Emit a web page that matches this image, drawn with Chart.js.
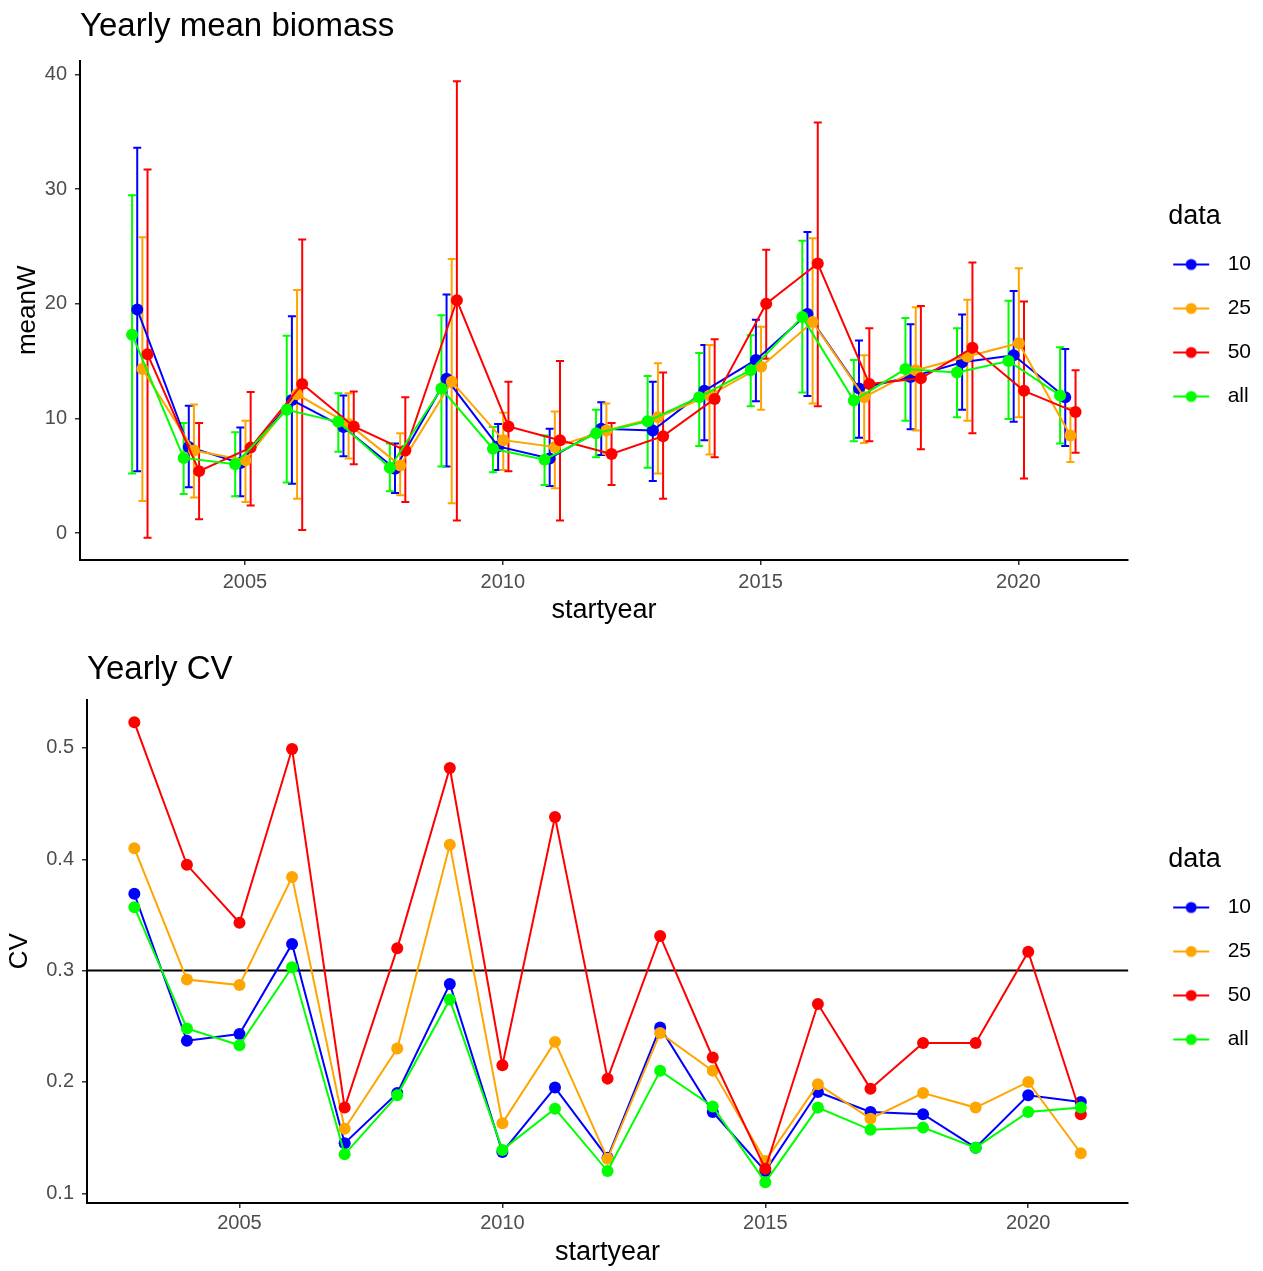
<!DOCTYPE html>
<html>
<head>
<meta charset="utf-8">
<script src="https://cdn.jsdelivr.net/npm/chart.js@4.4.1/dist/chart.umd.min.js"></script>
<style>
  html, body { margin: 0; padding: 0; background: #ffffff; }
  #wrap { position: relative; width: 1263px; height: 1271px; }
  .panel { position: absolute; left: 0; width: 1263px; }
</style>
</head>
<body>
<div id="wrap">
  <div class="panel" style="top:0px;height:635px"><canvas id="topChart" width="1263" height="635"></canvas></div>
  <div class="panel" style="top:635px;height:636px"><canvas id="cvChart" width="1263" height="636"></canvas></div>
</div>
<script>
// ---------------- data ----------------
const years = [2003, 2004, 2005, 2006, 2007, 2008, 2009, 2010, 2011, 2012,
               2013, 2014, 2015, 2016, 2017, 2018, 2019, 2020, 2021];
const seriesLabels = ['10', '25', '50', 'all'];
const seriesColors = ['#0000FF', '#FFA500', '#FF0000', '#00FF00'];

// Yearly mean biomass (meanW) with error bar limits
const meanW_10  = [19.5, 7.5, 6.1, 11.6, 9.25, 5.6, 13.45, 7.55, 6.5, 9.1, 8.95, 12.4, 15.1, 19.1, 12.6, 13.6, 14.9, 15.5, 11.85];
const lower_10  = [5.4, 4.0, 3.2, 4.3, 6.7, 3.5, 5.8, 5.5, 4.1, 6.8, 4.55, 8.1, 11.5, 11.95, 8.3, 9.05, 10.75, 9.7, 7.6];
const upper_10  = [33.6, 11.1, 9.2, 18.9, 12.0, 7.8, 20.8, 9.5, 9.1, 11.4, 13.2, 16.4, 18.6, 26.25, 16.8, 18.2, 19.05, 21.1, 16.05];

const meanW_25  = [14.3, 7.2, 6.35, 12.1, 9.5, 5.9, 13.2, 8.1, 7.5, 8.95, 10.1, 12.0, 14.5, 18.4, 11.85, 14.2, 15.4, 16.55, 8.5];
const lower_25  = [2.8, 3.1, 2.7, 3.0, 6.5, 3.3, 2.6, 5.5, 3.9, 6.9, 5.2, 6.85, 10.75, 11.3, 7.85, 8.95, 9.8, 10.1, 6.2];
const upper_25  = [25.8, 11.2, 9.8, 21.2, 12.2, 8.7, 23.9, 10.5, 10.6, 11.3, 14.8, 16.4, 18.0, 25.7, 15.5, 19.7, 20.35, 23.1, 10.9];

const meanW_50  = [15.6, 5.4, 7.45, 13.0, 9.3, 7.2, 20.3, 9.3, 8.1, 6.9, 8.45, 11.7, 20.0, 23.5, 13.0, 13.5, 16.15, 12.4, 10.55];
const lower_50  = [-0.4, 1.2, 2.4, 0.26, 6.0, 2.7, 1.1, 5.4, 1.1, 4.2, 3.0, 6.6, 15.2, 11.05, 8.0, 7.3, 8.7, 4.75, 7.0];
const upper_50  = [31.7, 9.6, 12.3, 25.6, 12.35, 11.85, 39.4, 13.2, 15.0, 9.6, 14.0, 16.9, 24.7, 35.8, 17.85, 19.8, 23.6, 20.2, 14.2];

const meanW_all = [17.3, 6.55, 6.0, 10.75, 9.7, 5.7, 12.6, 7.35, 6.4, 8.7, 9.75, 11.85, 14.2, 18.85, 11.55, 14.3, 14.0, 15.0, 12.0];
const lower_all = [5.2, 3.4, 3.2, 4.4, 7.1, 3.65, 5.8, 5.3, 4.2, 6.6, 5.7, 7.6, 11.05, 12.25, 8.0, 9.8, 10.1, 9.95, 7.8];
const upper_all = [29.45, 9.6, 8.8, 17.2, 12.2, 7.8, 19.0, 9.25, 8.5, 10.75, 13.7, 15.7, 17.25, 25.5, 15.1, 18.75, 17.85, 20.25, 16.2];

// Yearly CV
const cv_10  = [0.369, 0.237, 0.243, 0.324, 0.145, 0.190, 0.288, 0.137, 0.195, 0.132, 0.249, 0.173, 0.120, 0.191, 0.173, 0.171, 0.141, 0.188, 0.182];
const cv_25  = [0.410, 0.292, 0.287, 0.384, 0.158, 0.230, 0.413, 0.163, 0.236, 0.131, 0.244, 0.210, 0.129, 0.198, 0.167, 0.190, 0.177, 0.200, 0.136];
const cv_50  = [0.523, 0.395, 0.343, 0.499, 0.177, 0.320, 0.482, 0.215, 0.438, 0.203, 0.331, 0.222, 0.122, 0.270, 0.194, 0.235, 0.235, 0.317, 0.171];
const cv_all = [0.357, 0.248, 0.233, 0.303, 0.135, 0.188, 0.274, 0.139, 0.176, 0.120, 0.210, 0.178, 0.110, 0.177, 0.157, 0.159, 0.141, 0.173, 0.177];

const cvThreshold = 0.3;
const xTickYears = [2005, 2010, 2015, 2020];
const meanWTicks = [0, 10, 20, 30, 40];
const cvTicks = [0.1, 0.2, 0.3, 0.4, 0.5];

// ---------------- styling / layout ----------------
const dodge = [-0.09, 0.01, 0.11, -0.19];   // horizontal dodge (years) of 10, 25, 50, all in the top panel
const FONT = "'Liberation Sans', Arial, Helvetica, sans-serif";
Chart.defaults.font.family = FONT;
Chart.defaults.color = '#4D4D4D';

function legendMarker(color) {
  const c = document.createElement('canvas');
  c.width = 66; c.height = 14;
  const g = c.getContext('2d');
  g.strokeStyle = color; g.lineWidth = 2;
  g.beginPath(); g.moveTo(22, 7); g.lineTo(58, 7); g.stroke();
  g.fillStyle = color;
  g.beginPath(); g.arc(40, 7, 5.5, 0, Math.PI * 2); g.fill();
  return c;
}
const markers = seriesColors.map(legendMarker);

const errorBarPlugin = {
  id: 'errorBars',
  beforeDatasetsDraw(chart) {
    const { ctx, chartArea, scales } = chart;
    ctx.save();
    ctx.beginPath();
    ctx.rect(chartArea.left, chartArea.top, chartArea.width, chartArea.height);
    ctx.clip();
    chart.data.datasets.forEach((ds) => {
      if (!ds.errLow) return;
      ctx.strokeStyle = ds.borderColor;
      ctx.lineWidth = 2;
      ds.data.forEach((pt, j) => {
        const px = scales.x.getPixelForValue(pt.x);
        const yl = scales.y.getPixelForValue(ds.errLow[j]);
        const yh = scales.y.getPixelForValue(ds.errHigh[j]);
        ctx.beginPath();
        ctx.moveTo(px, yl); ctx.lineTo(px, yh);
        ctx.moveTo(px - 4, yl); ctx.lineTo(px + 4, yl);
        ctx.moveTo(px - 4, yh); ctx.lineTo(px + 4, yh);
        ctx.stroke();
      });
    });
    ctx.restore();
  }
};

const refLinePlugin = {
  id: 'refLine',
  beforeDatasetsDraw(chart, args, opts) {
    if (opts.value === undefined) return;
    const { ctx, chartArea, scales } = chart;
    const py = scales.y.getPixelForValue(opts.value);
    ctx.save();
    ctx.strokeStyle = '#000000';
    ctx.lineWidth = 2;
    ctx.beginPath();
    ctx.moveTo(chartArea.left, py);
    ctx.lineTo(chartArea.right, py);
    ctx.stroke();
    ctx.restore();
  }
};

function buildOptions(cfg) {
  return {
    responsive: false,
    animation: false,
    events: [],
    layout: { padding: { left: 0, right: 2, top: 0, bottom: 0 } },
    plugins: {
      title: {
        display: true, text: cfg.title, align: 'start', fullSize: false,
        color: '#000000', font: { size: 33, weight: 'normal' }, padding: cfg.titlePad
      },
      legend: {
        position: 'right', align: 'start', fullSize: false,
        title: { display: true, text: 'data', color: '#000000', font: { size: 27 }, padding: cfg.legendTitlePad, position: 'center' },
        labels: {
          usePointStyle: true, pointStyleWidth: 66, padding: 23, color: '#1A1A1A', font: { size: 21 },
          generateLabels: (chart) => chart.data.datasets.map((ds, i) => ({
            text: ds.label, datasetIndex: i, pointStyle: markers[i],
            fillStyle: ds.borderColor, strokeStyle: ds.borderColor, lineWidth: 0, hidden: false
          }))
        }
      },
      tooltip: { enabled: false },
      refLine: cfg.refLine || {}
    },
    scales: {
      x: {
        type: 'linear', min: cfg.xMin, max: cfg.xMax,
        afterBuildTicks: (s) => { s.ticks = xTickYears.map((v) => ({ value: v })); },
        afterFit: (s) => { s.height = cfg.xAxisHeight; },
        ticks: { callback: (v) => String(v), font: { size: 20 }, color: '#4D4D4D', padding: cfg.xTickPad, maxRotation: 0, autoSkip: false },
        grid: { display: true, drawOnChartArea: false, drawTicks: true, tickLength: 5, color: '#333333', lineWidth: 1.5 },
        border: { display: true, color: '#000000', width: 2 },
        title: { display: true, text: 'startyear', color: '#000000', font: { size: 27 }, padding: { top: 0, bottom: cfg.xTitlePad } }
      },
      y: {
        type: 'linear', min: cfg.yMin, max: cfg.yMax,
        afterBuildTicks: (s) => { s.ticks = cfg.yTicks.map((v) => ({ value: v })); },
        afterFit: (s) => { s.width = cfg.yAxisWidth; },
        ticks: { callback: cfg.yFormat, font: { size: 20 }, color: '#4D4D4D', padding: 8 },
        grid: { display: true, drawOnChartArea: false, drawTicks: true, tickLength: 5, color: '#333333', lineWidth: 1.5 },
        border: { display: true, color: '#000000', width: 2 },
        title: { display: true, text: cfg.yTitle, color: '#000000', font: { size: 26 }, padding: { top: cfg.yTitlePad, bottom: 0 } }
      }
    }
  };
}

function seriesDataset(i, values, xOffset, extra) {
  return Object.assign({
    label: seriesLabels[i],
    data: years.map((yr, j) => ({ x: yr + xOffset, y: values[j] })),
    showLine: true,
    borderColor: seriesColors[i],
    backgroundColor: seriesColors[i],
    pointBackgroundColor: seriesColors[i],
    pointBorderWidth: 0,
    pointRadius: 6,
    borderWidth: 2,
    order: 3 - i
  }, extra || {});
}

// ---------------- top panel ----------------
const meanSeries = [meanW_10, meanW_25, meanW_50, meanW_all];
const lowerSeries = [lower_10, lower_25, lower_50, lower_all];
const upperSeries = [upper_10, upper_25, upper_50, upper_all];

new Chart(document.getElementById('topChart'), {
  type: 'scatter',
  data: {
    datasets: seriesLabels.map((lab, i) => seriesDataset(i, meanSeries[i], dodge[i], {
      errLow: lowerSeries[i], errHigh: upperSeries[i]
    }))
  },
  options: buildOptions({
    title: 'Yearly mean biomass',
    titlePad: { top: 7, bottom: 14 },
    legendTitlePad: { top: 142, bottom: -4 },
    xMin: 2001.8, xMax: 2022.13, xAxisHeight: 75, xTickPad: 5, xTitlePad: 8,
    yMin: -2.35, yMax: 41.2, yTicks: meanWTicks, yFormat: (v) => String(v),
    yAxisWidth: 80, yTitle: 'meanW', yTitlePad: 12
  }),
  plugins: [errorBarPlugin]
});

// ---------------- bottom panel ----------------
const cvSeries = [cv_10, cv_25, cv_50, cv_all];

new Chart(document.getElementById('cvChart'), {
  type: 'scatter',
  data: {
    datasets: seriesLabels.map((lab, i) => seriesDataset(i, cvSeries[i], 0))
  },
  options: buildOptions({
    title: 'Yearly CV',
    titlePad: { top: 15, bottom: 10 },
    legendTitlePad: { top: 146, bottom: -4 },
    xMin: 2002.1, xMax: 2021.9, xAxisHeight: 68, xTickPad: 3, xTitlePad: 2,
    yMin: 0.0913, yMax: 0.5434, yTicks: cvTicks, yFormat: (v) => Number(v).toFixed(1),
    yAxisWidth: 87, yTitle: 'CV', yTitlePad: 4,
    refLine: { value: cvThreshold }
  }),
  plugins: [refLinePlugin]
});
</script>
</body>
</html>
